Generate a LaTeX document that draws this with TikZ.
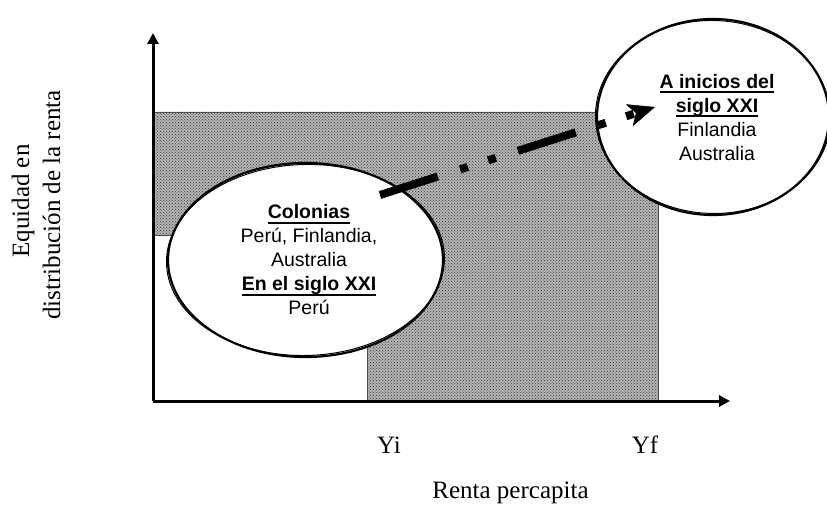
\documentclass[tikz,border=0pt]{standalone}
\usepackage{fontspec}
\setmainfont{Liberation Serif}
\setsansfont{Liberation Sans}
\usetikzlibrary{arrows.meta,shapes.geometric,patterns}
\newcommand{\hdul}[1]{\setbox0\hbox{\bfseries #1}\rlap{\rule[-5pt]{\wd0}{2.4pt}}\box0}
\begin{document}
\begin{tikzpicture}[x=1pt,y=-1pt,
  axis/.style={line width=3pt,-{Triangle[length=11pt,width=11pt]}},
  shade/.style={fill=black!30},
  shadedots/.style={pattern=crosshatch dots,pattern color=black!75},
  shadeedge/.style={draw=black!70,line width=0.8pt},
  ell/.style={ellipse,draw,line width=2.2pt,fill=white,inner sep=0pt},
  ellrim/.style={line width=1pt},
  intext/.style={font=\sffamily\fontsize{19.5}{24}\selectfont,align=center,inner sep=0pt},
  lab/.style={font=\fontsize{25}{30}\selectfont,inner sep=0pt},
  flow/.style={line width=8pt,
    dash pattern=on 60.7pt off 23.5pt on 8pt off 21.4pt on 8pt off 23.2pt,
    -{Stealth[length=27pt,width=23pt,inset=7pt,line width=0.5pt]}}
]
\useasboundingbox (0,0) rectangle (827,505);

% shaded region
\path[shade] (153,112) -- (658,112) -- (658,401) -- (367,401) -- (367,235) -- (153,235) -- cycle;
\path[shadedots] (153,112) -- (658,112) -- (658,401) -- (367,401) -- (367,235) -- (153,235) -- cycle;
\path[shadeedge] (153,112) -- (658,112) -- (658,401) -- (367,401) -- (367,235) -- (153,235) -- cycle;

% axes
\coordinate (O) at (153,401);
\coordinate (ytop) at (153,33);
\coordinate (xend) at (730,401);
\draw[axis] (O) -- (ytop);
\draw[axis] (O) -- (xend);

% axis labels
\node[lab,anchor=base] (yi) at (389,453) {Yi};
\node[lab,anchor=base] (yf) at (645,453) {Yf};
\node[lab,anchor=base] (xlab) at (510.5,498) {Renta percapita};
\node[lab,anchor=base,rotate=90] (ylab1) at (29,201) {Equidad en};
\node[lab,anchor=base,rotate=90] (ylab2) at (60,205) {distribución de la renta};

% left ellipse
\node[ell,minimum width=275pt,minimum height=194pt] (eL) at (305.5,260) {};
\draw[ellrim,rotate around={1.5:(eL.center)}] (eL.center) ellipse [x radius=139, y radius=95.5];
\node[intext] (tL) at (309,260) {\hdul{Colonias}\\Perú, Finlandia,\\Australia\\\hdul{En el siglo XXI}\\Perú};

% right ellipse
\node[ell,minimum width=232pt,minimum height=196pt] (eR) at (713,117) {};
\draw[ellrim,rotate around={-1.5:(eR.center)}] (eR.center) ellipse [x radius=117.5, y radius=96.5];
\node[intext] (tR) at (717,117.5) {\hdul{A inicios del}\\\hdul{siglo XXI}\\Finlandia\\Australia};

% dash-dot-dot arrow from the left ellipse into the right one
\coordinate (aS) at (380,195);
\coordinate (aE) at (655,107);
\draw[flow] (aS) -- (aE);
\end{tikzpicture}
\end{document}
